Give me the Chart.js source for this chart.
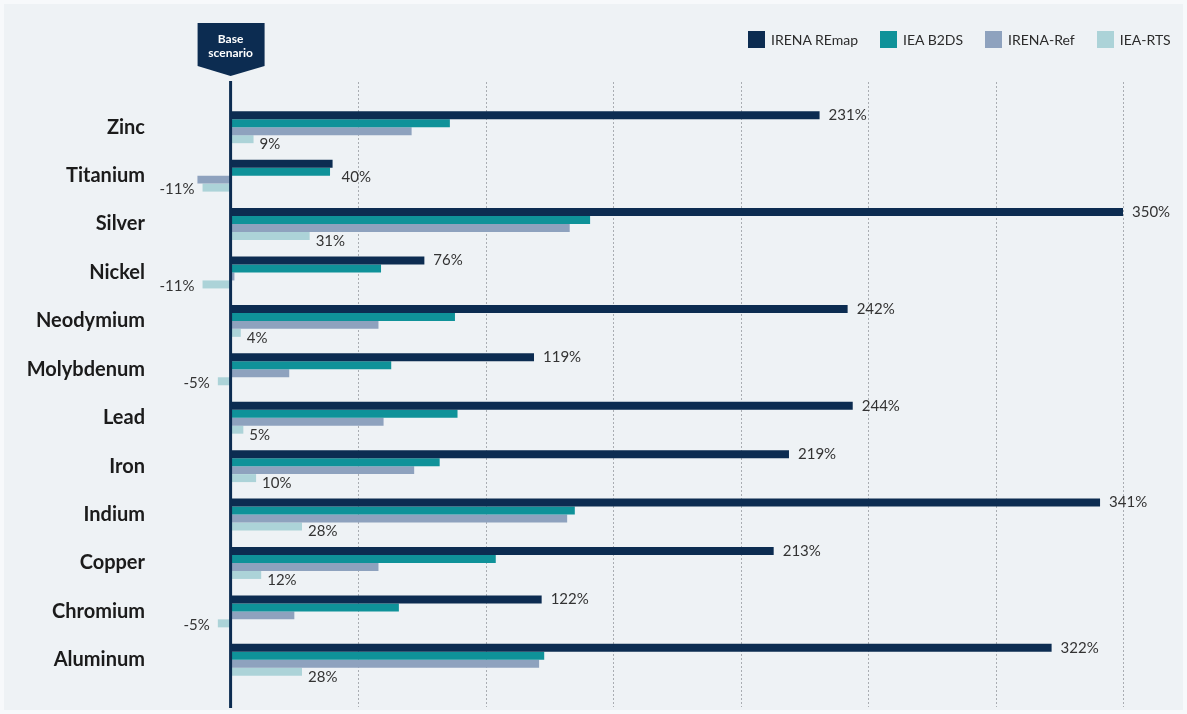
<!DOCTYPE html>
<html>
<head>
<meta charset="utf-8">
<script src="https://cdn.jsdelivr.net/npm/chart.js@4"></script>
<style>
  html, body { margin: 0; padding: 0; background: #f7f9fb; }
  #fondo { position: absolute; left: 4px; top: 4px; width: 1179px; height: 706px; background: #eef2f5; }
  #grafica { position: absolute; left: 0; top: 0; display: block; }
  #legend { position: absolute; top: 31px; left: 748px; display: flex; white-space: nowrap; font-family: Lato, sans-serif; font-size: 14px; color: #2b2b2b; }
  #legend .item { display: flex; align-items: center; margin-right: 22px; }
  #legend .sw { width: 17px; height: 17px; margin-right: 6px; flex: none; }
</style>
</head>
<body>
<div id="fondo"></div>
<canvas id="grafica" width="1187" height="714"></canvas>
<div id="legend"></div>
<script>
const categorias = ["Zinc", "Titanium", "Silver", "Nickel", "Neodymium", "Molybdenum", "Lead", "Iron", "Indium", "Copper", "Chromium", "Aluminum"];
const irenaRemap = [231, 40, 350, 76, 242, 119, 244, 219, 341, 213, 122, 322];
const ieaB2ds = [86, 39, 141, 59, 88, 63, 89, 82, 135, 104, 66, 123];
const irenaRef = [71, -13, 133, 1.5, 58, 23, 60, 72, 132, 58, 25, 121];
const ieaRts = [9, -11, 31, -11, 4, -5, 5, 10, 28, 12, -5, 28];
const nombresSeries = ["IRENA REmap", "IEA B2DS", "IRENA-Ref", "IEA-RTS"];
const colores = ["#0c2c51", "#0f9299", "#8ea2be", "#acd3d8"];
const lineasGuia = [50, 100, 150, 200, 250, 300, 350];

const series = [irenaRemap, ieaB2ds, irenaRef, ieaRts];

// leyenda en HTML
const leyenda = document.getElementById("legend");
nombresSeries.forEach((nombre, i) => {
    const item = document.createElement("div");
    item.className = "item";
    item.innerHTML = `<span class="sw" style="background:${colores[i]}"></span>${nombre}`;
    leyenda.appendChild(item);
});

// líneas punteadas, eje cero, marcador "Base scenario" y etiquetas de valor
const decoraciones = {
    id: "decoraciones",
    beforeDatasetsDraw(chart) {
        const { ctx, chartArea, scales } = chart;
        ctx.save();
        ctx.strokeStyle = "#a9adb2";
        ctx.lineWidth = 1;
        ctx.setLineDash([2, 2]);
        lineasGuia.forEach(v => {
            const x = Math.round(scales.x.getPixelForValue(v)) + 0.5;
            ctx.beginPath();
            ctx.moveTo(x, chartArea.top - 21);
            ctx.lineTo(x, chartArea.bottom + 23);
            ctx.stroke();
        });
        ctx.restore();
    },
    afterDatasetsDraw(chart) {
        const { ctx, chartArea, scales } = chart;
        const x0 = scales.x.getPixelForValue(0);
        ctx.save();
        // eje en cero
        ctx.strokeStyle = "#0c2c51";
        ctx.lineWidth = 3;
        ctx.beginPath();
        ctx.moveTo(x0, chartArea.top - 22);
        ctx.lineTo(x0, chartArea.bottom + 24);
        ctx.stroke();

        // banderín
        ctx.fillStyle = "#0c2c51";
        ctx.beginPath();
        ctx.moveTo(x0 - 33, 23);
        ctx.lineTo(x0 + 34, 23);
        ctx.lineTo(x0 + 34, 66);
        ctx.lineTo(x0, 76);
        ctx.lineTo(x0 - 33, 66);
        ctx.closePath();
        ctx.fill();
        ctx.fillStyle = "#ffffff";
        ctx.font = "bold 12px Lato, sans-serif";
        ctx.textAlign = "center";
        ctx.textBaseline = "middle";
        ctx.fillText("Base", x0, 39);
        ctx.fillText("scenario", x0, 53);

        // etiquetas
        ctx.fillStyle = "#333333";
        ctx.font = "15px Lato, sans-serif";
        const barrasRemap = chart.getDatasetMeta(0).data;
        const barrasB2ds = chart.getDatasetMeta(1).data;
        const barrasRts = chart.getDatasetMeta(3).data;
        irenaRemap.forEach((v, i) => {
            const b = barrasRemap[i];
            let y = b.y;
            if (Math.abs(barrasB2ds[i].x - b.x) < 20) y += 14;
            ctx.textAlign = "left";
            ctx.fillText(v + "%", b.x + 9, y);
        });
        ieaRts.forEach((v, i) => {
            const b = barrasRts[i];
            if (v < 0) {
                ctx.textAlign = "right";
                ctx.fillText(v + "%", b.x - 8, b.y + 2);
            } else {
                ctx.textAlign = "left";
                ctx.fillText(v + "%", b.x + 6, b.y + 5);
            }
        });
        ctx.restore();
    }
};

function crearGrafica() {
    const ctx = document.getElementById("grafica").getContext("2d");
    new Chart(ctx, {
        type: "bar",
        data: {
            labels: categorias,
            datasets: series.map((datos, i) => ({
                label: nombresSeries[i],
                data: datos,
                backgroundColor: colores[i],
                borderWidth: 0,
                categoryPercentage: 0.66,
                barPercentage: 1.0
            }))
        },
        options: {
            indexAxis: "y",
            responsive: false,
            animation: false,
            layout: { padding: { top: 103, bottom: 30, right: 64, left: 0 } },
            plugins: { legend: { display: false }, tooltip: { enabled: false } },
            scales: {
                x: {
                    display: false,
                    min: -32, max: 350
                },
                y: {
                    grid: { display: false, drawTicks: false },
                    border: { display: false },
                    ticks: { color: "#1b1b1b", padding: 4, font: { family: "Lato, sans-serif", size: 20, weight: "bold" } },
                    afterFit(scale) { scale.width = 149; }
                }
            }
        },
        plugins: [decoraciones]
    });
}

crearGrafica();
</script>
</body>
</html>
